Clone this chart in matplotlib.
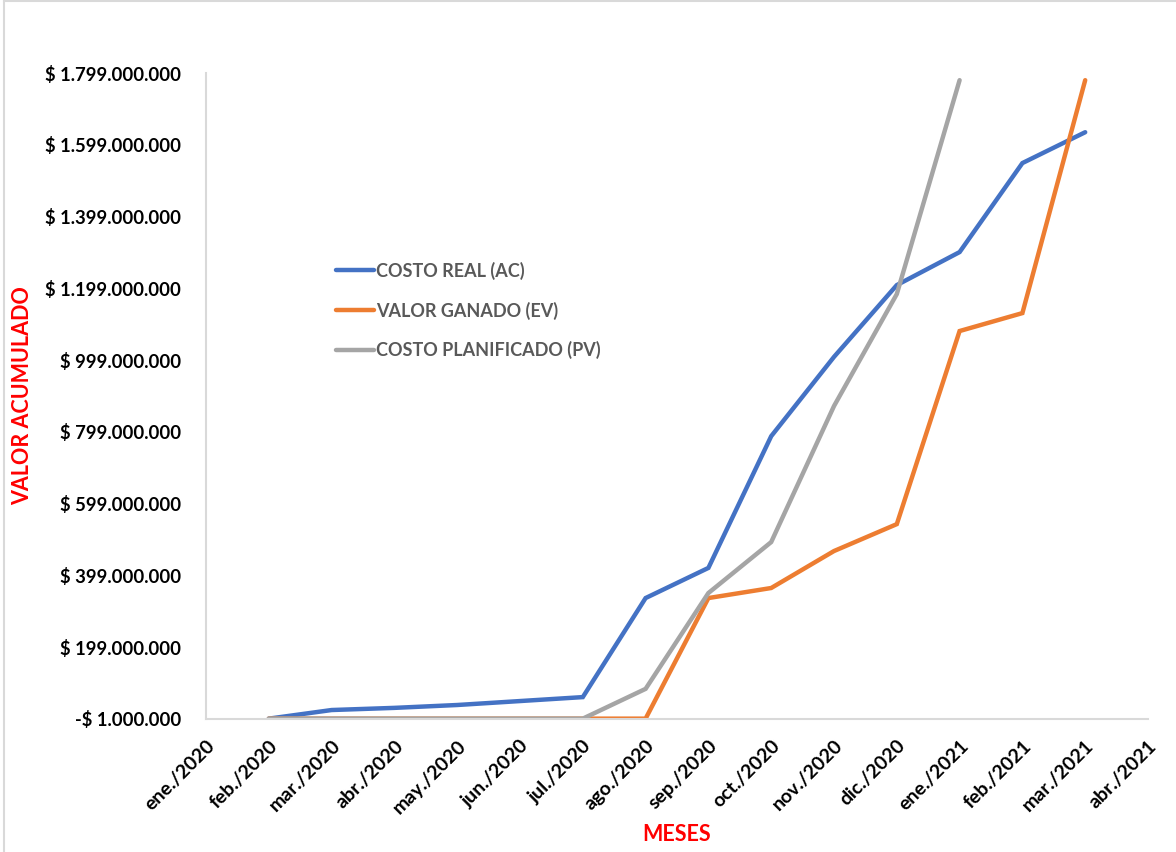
import matplotlib
matplotlib.use("Agg")
import matplotlib.pyplot as plt
from matplotlib.lines import Line2D

months = ["ene./2020", "feb./2020", "mar./2020", "abr./2020", "may./2020", "jun./2020",
          "jul./2020", "ago./2020", "sep./2020", "oct./2020", "nov./2020", "dic./2020",
          "ene./2021", "feb./2021", "mar./2021", "abr./2021"]

# values in millions of pesos, starting at feb./2020
ac = [0, 24, 30, 38, 49, 60, 336, 420, 787, 1008, 1208, 1300, 1548, 1634]
ev = [0, 0, 0, 0, 0, 0, 0, 336, 364, 467, 542, 1080, 1130, 1779]
pv = [0, 0, 0, 0, 0, 0, 83, 350, 492, 871, 1183, 1779]

yticks_m = [-1, 199, 399, 599, 799, 999, 1199, 1399, 1599, 1799]

labels = ["COSTO REAL (AC)", "VALOR GANADO (EV)", "COSTO PLANIFICADO (PV)"]
colors = ["#4472C4", "#ED7D31", "#A5A5A5"]

plt.rcParams['font.family'] = ['Lato', 'DejaVu Sans']

fig = plt.figure(figsize=(11.76, 8.52), dpi=100)
ax = fig.add_axes([206/1176, 1 - 719/852, (1148-206)/1176, (719-73)/852])

def fmt(v):
    s = f"{abs(v) * 1000000:,}".replace(",", ".")
    return ("-$ " if v < 0 else "$ ") + s

for vals, lab, c in zip([ac, ev, pv], labels, colors):
    xs = list(range(1, 1 + len(vals)))
    ax.plot(xs, vals, color=c, lw=3.2, label=lab, solid_capstyle='round', solid_joinstyle='miter')

ax.set_xlim(0, 15)
ax.set_ylim(-1, 1799)
ax.set_xticks(range(len(months)))
ax.set_xticklabels(months, rotation=45, ha='right', va='top', rotation_mode='anchor',
                   fontsize=14, fontweight='bold')
ax.set_yticks(yticks_m)
ax.set_yticklabels([fmt(v) for v in yticks_m], fontsize=13.3, fontweight='bold')
ax.tick_params(axis='both', length=0)
ax.tick_params(axis='y', pad=18)
ax.tick_params(axis='x', pad=13)

for s in ['top', 'right']:
    ax.spines[s].set_visible(False)
for s in ['left', 'bottom']:
    ax.spines[s].set_color('#D9D9D9')
    ax.spines[s].set_linewidth(1.5)

ax.set_ylabel("VALOR ACUMULADO", color='red', fontsize=15.5, fontweight='bold')
ax.yaxis.set_label_coords(-0.183, 0.5)
ax.set_xlabel("MESES", color='red', fontsize=15.5, fontweight='bold')
ax.xaxis.set_label_coords(0.5, -0.163)

leg = ax.legend(loc='upper left', bbox_to_anchor=(0.121, 0.733), frameon=False,
                handlelength=2.1, handletextpad=0.1, labelspacing=1.2,
                prop={'weight': 'bold', 'size': 13})
for t in leg.get_texts():
    t.set_color('#595959')

fig.add_artist(Line2D([4/1176, 4/1176], [0, 1 - 1/852], color='#D9D9D9', lw=1.5, transform=fig.transFigure))
fig.add_artist(Line2D([4/1176, 1], [1 - 1/852, 1 - 1/852], color='#D9D9D9', lw=1.5, transform=fig.transFigure))

fig.savefig("out.png", dpi=100, facecolor='white')
